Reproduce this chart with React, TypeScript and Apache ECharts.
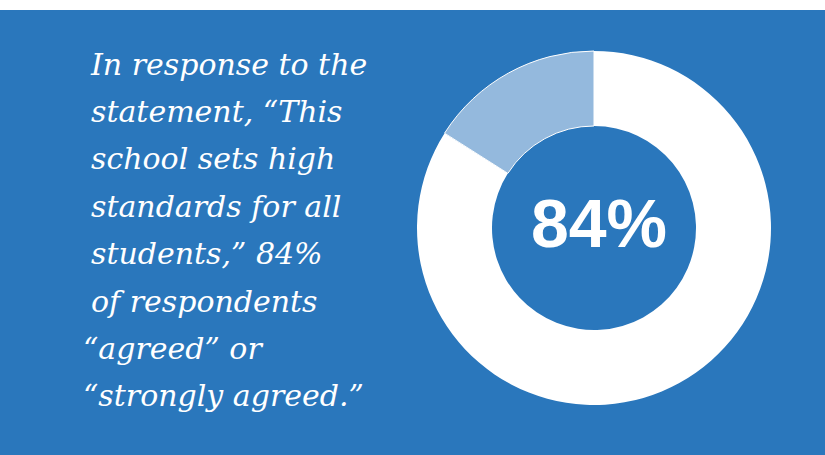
import React, { useEffect, useRef } from "react";
import * as echarts from "echarts";

const sliceNames = ["Agreed or strongly agreed", "Other"];
const sliceValues = [84, 16];
const statementLines = [
  "In response to the",
  "statement, \u201CThis",
  "school sets high",
  "standards for all",
  "students,\u201D 84%",
  "of respondents",
  "\u201Cagreed\u201D or",
  "\u201Cstrongly agreed.\u201D",
];

const BLUE = "#2A77BC";

export default function App() {
  const ref = useRef<HTMLDivElement>(null);
  useEffect(() => {
    document.body.style.margin = "0";
    const chart = echarts.init(ref.current!, null, { renderer: "svg" });
    const textEls = statementLines.map((line, i) => ({
      type: "text",
      x: line.startsWith("\u201C") ? 83 : 91,
      y: 64 + i * 47.4,
      z: 10,
      style: {
        text: line,
        fill: "#ffffff",
        font: "italic 30px 'DejaVu Serif', serif",
        verticalAlign: "middle",
        align: "left",
      },
    }));
    chart.setOption({
      animation: false,
      backgroundColor: "#ffffff",
      graphic: [
        {
          type: "rect",
          z: 0,
          shape: { x: 0, y: 10, width: 825, height: 445 },
          style: { fill: BLUE },
        },
        ...textEls,
        {
          type: "text",
          x: 599,
          y: 223,
          z: 100,
          style: {
            text: `${sliceValues[0]}%`,
            fill: "#ffffff",
            font: "bold 68px 'Liberation Sans', Arial, sans-serif",
            align: "center",
            verticalAlign: "middle",
          },
        },
      ],
      series: [
        {
          type: "pie",
          center: [594, 228],
          radius: [102, 177],
          startAngle: 90,
          clockwise: true,
          silent: true,
          label: { show: false },
          labelLine: { show: false },
          emphasis: { disabled: true },
          data: [
            {
              name: sliceNames[0],
              value: sliceValues[0],
              itemStyle: { color: "#ffffff" },
            },
            {
              name: sliceNames[1],
              value: sliceValues[1],
              itemStyle: { color: "#94B9DD", borderColor: "#ffffff", borderWidth: 1 },
            },
          ],
        },
      ],
    });
    return () => chart.dispose();
  }, []);
  return (
    <div
      ref={ref}
      style={{ position: "absolute", left: 0, top: 0, width: 825, height: 455 }}
    />
  );
}
